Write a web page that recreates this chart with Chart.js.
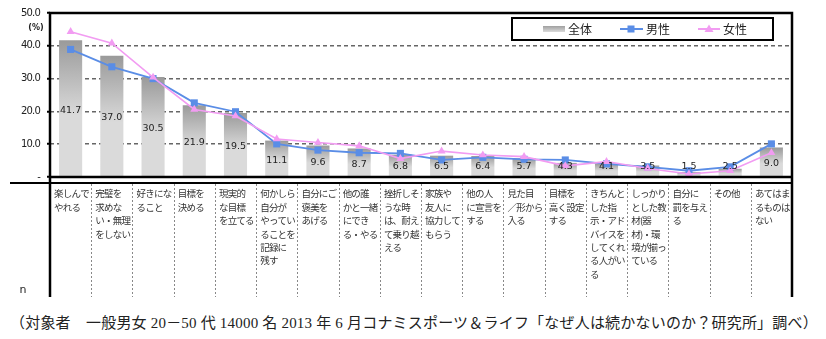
<!DOCTYPE html>
<html lang="ja">
<head>
<meta charset="utf-8">
<script src="https://cdn.jsdelivr.net/npm/chart.js@4/dist/chart.umd.min.js"></script>
<style>
  html, body { margin: 0; padding: 0; background: #fff; }
  #wrap { position: relative; width: 826px; height: 339px; overflow: hidden; }
  #c { position: absolute; left: 0; top: 0; }
  #note { position: absolute; left: 10px; top: 311px; white-space: nowrap;
          font-family: "Liberation Serif", "DejaVu Serif", "Noto Sans CJK JP", serif;
          font-size: 15px; letter-spacing: 0.2px; color: #222; }
</style>
</head>
<body>
<div id="wrap">
  <canvas id="c" width="826" height="300"></canvas>
  <div id="note">（対象者　一般男女 20－50 代 14000 名 2013 年 6 月コナミスポーツ＆ライフ「なぜ人は続かないのか？研究所」調べ）</div>
</div>
<script>
// ---- data ----
const categories = [
  ["楽しんで","やれる"],
  ["完璧を","求めな","い・無理","をしない"],
  ["好きにな","ること"],
  ["目標を","決める"],
  ["現実的","な目標","を立てる"],
  ["何かしら","自分が","やってい","ることを","記録に","残す"],
  ["自分にご","褒美を","あげる"],
  ["他の誰","かと一緒","にでき","る・やる"],
  ["挫折しそ","うな時","は、耐え","て乗り越","える"],
  ["家族や","友人に","協力して","もらう"],
  ["他の人","に宣言を","する"],
  ["見た目","／形から","入る"],
  ["目標を","高く設定","する"],
  ["きちんと","した指","示・アド","バイスを","してくれ","る人がい","る"],
  ["しっかり","とした教","材(器","材)・環","境が揃っ","ている"],
  ["自分に","罰を与え","る"],
  ["その他"],
  ["あてはま","るものは","ない"]
];
const overall = [41.7,37.0,30.5,21.9,19.5,11.1,9.6,8.7,6.8,6.5,6.4,5.7,4.3,4.1,3.5,1.5,2.5,9.0];
const male    = [38.9,33.6,30.0,22.6,19.9,10.1,8.2,7.4,7.2,5.2,6.0,5.4,5.2,4.0,3.1,1.9,3.1,10.1];
const female  = [44.3,40.8,30.4,20.6,18.6,11.6,10.5,9.5,5.6,7.9,6.7,6.2,3.4,4.7,2.6,0.9,1.9,7.4];
const seriesNames = ["全体","男性","女性"];
const yUnit = "(%)";
const rowLabel = "n";

// ---- styles ----
const BLUE = '#5a8de6';
const PINK = '#f29cf2';
const NUM_FONT = '"DejaVu Sans", sans-serif';
const JP_FONT = '"Noto Sans CJK JP", sans-serif';

function barGradient(ctx, top, base) {
  const g = ctx.createLinearGradient(0, top, 0, top + (base - top) * 0.55);
  g.addColorStop(0, '#9a9a9a');
  g.addColorStop(1, '#dadada');
  return g;
}

const spacingPlugin = {
  id: 'spacing',
  beforeDraw(chart) { chart.ctx.letterSpacing = '-0.8px'; },
  beforeDatasetsDraw(chart) { chart.ctx.letterSpacing = '0px'; }
};

const framePlugin = {
  id: 'frame',
  afterDatasetsDraw(chart) {
    const {ctx} = chart;
    const meta = chart.getDatasetMeta(0);
    ctx.save();
    ctx.fillStyle = '#222';
    ctx.font = '9.5px ' + NUM_FONT;
    ctx.textAlign = 'center';
    ctx.textBaseline = 'middle';
    meta.data.forEach((el, i) => {
      const v = overall[i];
      const y = Math.min((el.y + el.base) / 2 + 2, el.base - 10);
      ctx.fillText(v.toFixed(1), el.x, y);
    });
    ctx.restore();
  },
  afterDraw(chart) {
    const {ctx, chartArea: a, scales} = chart;
    const tableTop = a.bottom + 6;
    const tableBottom = chart.height - 3;
    ctx.save();
    ctx.letterSpacing = '0px';
    ctx.strokeStyle = '#000';
    ctx.lineWidth = 2.5;
    ctx.beginPath();
    ctx.moveTo(a.left, tableBottom); ctx.lineTo(a.left, a.top); ctx.lineTo(a.right, a.top); ctx.lineTo(a.right, tableBottom);
    ctx.moveTo(a.left, a.bottom); ctx.lineTo(a.right, a.bottom);
    ctx.stroke();
    ctx.lineWidth = 2;
    ctx.beginPath();
    ctx.moveTo(10, tableTop); ctx.lineTo(a.right, tableTop);
    ctx.stroke();
    // column separators
    ctx.strokeStyle = '#888';
    ctx.lineWidth = 1;
    ctx.setLineDash([2, 2]);
    const xs = scales.x;
    const half = (xs.getPixelForValue(1) - xs.getPixelForValue(0)) / 2;
    ctx.beginPath();
    for (let i = 0; i < categories.length - 1; i++) {
      const x = Math.round(xs.getPixelForValue(i) + half) + 0.5;
      ctx.moveTo(x, tableTop + 1); ctx.lineTo(x, tableBottom);
    }
    ctx.stroke();
    ctx.setLineDash([]);
    // unit + row label
    ctx.fillStyle = '#222';
    ctx.font = 'bold 8px ' + NUM_FONT;
    ctx.textAlign = 'center';
    ctx.textBaseline = 'middle';
    ctx.fillText(yUnit, 36, 28);
    ctx.font = '11px ' + NUM_FONT;
    ctx.fillText(rowLabel, 23, 290);
    // legend
    const lx = 512, ly = 18, lw = 261, lh = 22;
    ctx.fillStyle = '#fff';
    ctx.fillRect(lx, ly, lw, lh);
    ctx.strokeStyle = '#000';
    ctx.lineWidth = 2;
    ctx.strokeRect(lx, ly, lw, lh);
    const cy = ly + lh / 2;
    const ds = chart.data.datasets;
    ctx.font = '12px ' + JP_FONT;
    ctx.textAlign = 'left';
    ctx.fillStyle = '#222';
    const g = ctx.createLinearGradient(0, cy - 3, 0, cy + 3);
    g.addColorStop(0, '#a0a0a0'); g.addColorStop(1, '#dadada');
    ctx.fillStyle = g;
    ctx.fillRect(543, cy - 3, 22, 6);
    ctx.fillStyle = '#222';
    ctx.fillText(ds[0].label, 568, cy);
    ctx.strokeStyle = BLUE; ctx.lineWidth = 2;
    ctx.beginPath(); ctx.moveTo(620, cy); ctx.lineTo(643, cy); ctx.stroke();
    ctx.fillStyle = BLUE; ctx.fillRect(627.5, cy - 3.5, 7, 7);
    ctx.fillStyle = '#222';
    ctx.fillText(ds[1].label, 646, cy);
    ctx.strokeStyle = PINK;
    ctx.beginPath(); ctx.moveTo(698, cy); ctx.lineTo(720, cy); ctx.stroke();
    ctx.fillStyle = PINK;
    ctx.beginPath(); ctx.moveTo(709, cy - 4.5); ctx.lineTo(713.5, cy + 3); ctx.lineTo(704.5, cy + 3); ctx.closePath(); ctx.fill();
    ctx.fillStyle = '#222';
    ctx.fillText(ds[2].label, 723, cy);
    ctx.restore();
  }
};

new Chart(document.getElementById('c'), {
  data: {
    labels: categories,
    datasets: [
      {
        type: 'bar', label: seriesNames[0], data: overall, order: 2,
        barPercentage: 0.56, categoryPercentage: 1.0,
        backgroundColor: (c) => {
          const ch = c.chart;
          if (!ch.chartArea || c.type !== 'data') return '#cccccc';
          const ys = ch.scales.y;
          return barGradient(ch.ctx, ys.getPixelForValue(c.raw), ys.getPixelForValue(0));
        },
        borderWidth: 0
      },
      {
        type: 'line', label: seriesNames[1], data: male, order: 1,
        borderColor: BLUE, backgroundColor: BLUE, borderWidth: 1.8,
        pointStyle: 'rect', pointRadius: 5, pointBorderWidth: 0, tension: 0
      },
      {
        type: 'line', label: seriesNames[2], data: female, order: 0,
        borderColor: PINK, backgroundColor: PINK, borderWidth: 1.6,
        pointStyle: 'triangle', pointRadius: 4.6, pointBorderWidth: 0, tension: 0
      }
    ]
  },
  options: {
    responsive: false,
    animation: false,
    events: [],
    layout: { padding: { top: 13, right: 34, left: 0, bottom: 0 } },
    plugins: { legend: { display: false }, tooltip: { enabled: false } },
    scales: {
      x: {
        offset: true,
        grid: { display: false, drawTicks: false },
        border: { display: false },
        ticks: {
          autoSkip: false, maxRotation: 0, minRotation: 0,
          align: 'start', labelOffset: -16.5, padding: 10,
          color: '#333',
          font: { family: JP_FONT, size: 9.5, lineHeight: '13.4px' }
        },
        afterFit: (s) => { s.height = 123; s.paddingLeft = 0; s.paddingRight = 0; }
      },
      y: {
        min: 0, max: 50,
        ticks: {
          stepSize: 10, padding: 7, color: '#222',
          font: { family: NUM_FONT, size: 10 },
          callback: (v) => v === 0 ? '-' : Number(v).toFixed(1)
        },
        grid: {
          color: (c) => (c.tick && c.tick.value > 0 && c.tick.value < 50) ? '#666' : 'rgba(0,0,0,0)',
          lineWidth: 1.5, drawTicks: true, tickLength: 3, tickColor: '#000', tickWidth: 2
        },
        border: { display: false, dash: [4, 3] },
        afterFit: (s) => { s.width = 50; s.paddingTop = 0; s.paddingBottom = 0; }
      }
    }
  },
  plugins: [spacingPlugin, framePlugin]
});
</script>
</body>
</html>
